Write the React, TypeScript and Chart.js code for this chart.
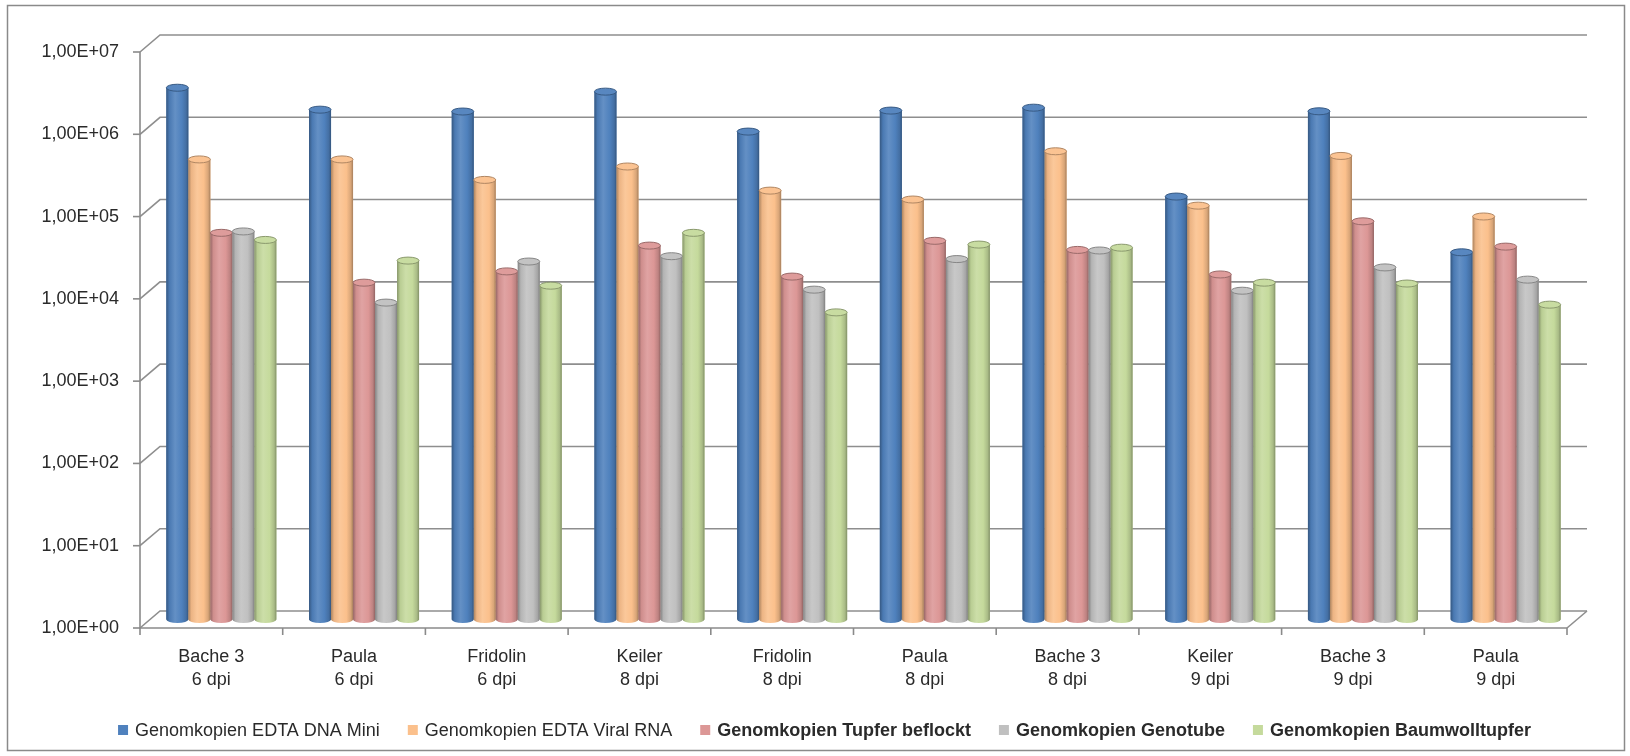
import React, { useEffect, useRef } from 'react';
import { Chart, registerables } from 'chart.js';

Chart.register(...registerables);

const categories: string[][] = [
  ['Bache 3', '6 dpi'],
  ['Paula', '6 dpi'],
  ['Fridolin', '6 dpi'],
  ['Keiler', '8 dpi'],
  ['Fridolin', '8 dpi'],
  ['Paula', '8 dpi'],
  ['Bache 3', '8 dpi'],
  ['Keiler', '9 dpi'],
  ['Bache 3', '9 dpi'],
  ['Paula', '9 dpi'],
];

const seriesNames = [
  'Genomkopien EDTA DNA Mini',
  'Genomkopien EDTA Viral RNA',
  'Genomkopien Tupfer beflockt',
  'Genomkopien Genotube',
  'Genomkopien Baumwolltupfer',
];

const edtaDnaMini = [2.9e6, 1.57e6, 1.49e6, 2.6e6, 8.5e5, 1.53e6, 1.66e6, 1.38e5, 1.5e6, 2.9e4];
const edtaViralRna = [3.9e5, 3.9e5, 2.2e5, 3.2e5, 1.63e5, 1.27e5, 4.9e5, 1.07e5, 4.3e5, 7.9e4];
const tupferBeflockt = [5.0e4, 1.24e4, 1.7e4, 3.5e4, 1.47e4, 4.0e4, 3.1e4, 1.56e4, 6.9e4, 3.4e4];
const genotube = [5.2e4, 7.1e3, 2.24e4, 2.6e4, 1.02e4, 2.4e4, 3.05e4, 9.9e3, 1.9e4, 1.35e4];
const baumwolltupfer = [4.1e4, 2.3e4, 1.14e4, 5.0e4, 5.4e3, 3.6e4, 3.3e4, 1.24e4, 1.21e4, 6.7e3];

const yTickValues = [1, 10, 100, 1000, 10000, 100000, 1000000, 10000000];
const yTickLabels = ['1,00E+00', '1,00E+01', '1,00E+02', '1,00E+03', '1,00E+04', '1,00E+05', '1,00E+06', '1,00E+07'];

const seriesColors = ['#4F81BD', '#FBC08C', '#DC9796', '#C0C0C0', '#C5DA9C'];
const legendBold = [false, false, true, true, true];

const FONT = "'Liberation Sans', Arial, sans-serif";
const TEXT = '#2a2a2a';
const DX = 20;
const DY = -17;

function shade(hex: string, f: number): string {
  const n = parseInt(hex.slice(1), 16);
  let r = (n >> 16) & 255, g = (n >> 8) & 255, b = n & 255;
  if (f < 0) {
    r = r * (1 + f); g = g * (1 + f); b = b * (1 + f);
  } else {
    r = r + (255 - r) * f; g = g + (255 - g) * f; b = b + (255 - b) * f;
  }
  return `rgb(${Math.round(r)},${Math.round(g)},${Math.round(b)})`;
}

const chart3d = {
  id: 'chart3d',
  beforeDraw(chart: any) {
    const { ctx, chartArea: a, scales } = chart;
    const y = scales.y;
    ctx.save();
    ctx.fillStyle = '#ffffff';
    ctx.fillRect(0, 0, chart.width, chart.height);
    ctx.strokeStyle = '#8a8a8a';
    ctx.lineWidth = 1.5;
    ctx.strokeRect(7.5, 5.5, 1617, 745);
    ctx.strokeStyle = '#8e8e8e';
    ctx.lineWidth = 1.6;
    for (const v of yTickValues) {
      const py = y.getPixelForValue(v);
      ctx.beginPath();
      ctx.moveTo(a.left, py);
      ctx.lineTo(a.left + DX, py + DY);
      ctx.lineTo(a.right + DX, py + DY);
      ctx.stroke();
    }
    ctx.beginPath();
    ctx.moveTo(a.right, a.bottom);
    ctx.lineTo(a.right + DX, a.bottom + DY);
    ctx.stroke();
    ctx.restore();
  },
  beforeDatasetsDraw(chart: any) {
    chart.ctx.save();
    chart.ctx.translate(DX / 2, DY / 2);
  },
  afterDatasetsDraw(chart: any) {
    const ctx = chart.ctx;
    const ry = 3.5;
    chart.data.datasets.forEach((ds: any, d: number) => {
      const meta = chart.getDatasetMeta(d);
      const c = seriesColors[d];
      meta.data.forEach((el: any) => {
        const { x, y, base, width } = el.getProps(['x', 'y', 'base', 'width'], true);
        const l = x - width / 2;
        const r = x + width / 2;
        const g = ctx.createLinearGradient(l, 0, r, 0);
        g.addColorStop(0, shade(c, -0.32));
        g.addColorStop(0.14, shade(c, -0.06));
        g.addColorStop(0.4, shade(c, 0.12));
        g.addColorStop(0.7, c);
        g.addColorStop(0.9, shade(c, -0.14));
        g.addColorStop(1, shade(c, -0.34));
        ctx.fillStyle = g;
        ctx.beginPath();
        ctx.moveTo(l, y);
        ctx.lineTo(l, base);
        ctx.ellipse(x, base, width / 2, ry, 0, Math.PI, 0, true);
        ctx.lineTo(r, y);
        ctx.closePath();
        ctx.fill();
        ctx.beginPath();
        ctx.ellipse(x, y, width / 2, ry, 0, 0, Math.PI * 2);
        ctx.fillStyle = shade(c, 0.05);
        ctx.fill();
        ctx.strokeStyle = shade(c, -0.3);
        ctx.lineWidth = 1;
        ctx.stroke();
      });
    });
    ctx.restore();
  },
  afterDraw(chart: any) {
    const { ctx, chartArea: a, scales } = chart;
    const y = scales.y;
    ctx.save();
    ctx.strokeStyle = '#8a8a8a';
    ctx.lineWidth = 1.6;
    ctx.beginPath();
    ctx.moveTo(a.left, a.top);
    ctx.lineTo(a.left, a.bottom);
    ctx.lineTo(a.right, a.bottom);
    ctx.stroke();
    for (const v of yTickValues) {
      const py = y.getPixelForValue(v);
      ctx.beginPath();
      ctx.moveTo(a.left - 7, py);
      ctx.lineTo(a.left, py);
      ctx.stroke();
    }
    const n = categories.length;
    for (let i = 0; i <= n; i++) {
      const px = a.left + (i * (a.right - a.left)) / n;
      ctx.beginPath();
      ctx.moveTo(px, a.bottom);
      ctx.lineTo(px, a.bottom + 7);
      ctx.stroke();
    }
    // legend
    const box = 10, gapText = 7, gapItem = 28;
    const widths = seriesNames.map((s, i) => {
      ctx.font = `${legendBold[i] ? 'bold ' : ''}18px ${FONT}`;
      return ctx.measureText(s).width;
    });
    const total = widths.reduce((s, w) => s + w + box + gapText, 0) + gapItem * (seriesNames.length - 1);
    let x = chart.width / 2 + 9.5 - total / 2;
    const ly = 730;
    ctx.textBaseline = 'middle';
    ctx.textAlign = 'left';
    seriesNames.forEach((s, i) => {
      ctx.fillStyle = seriesColors[i];
      ctx.fillRect(x, ly - box / 2, box, box);
      x += box + gapText;
      ctx.font = `${legendBold[i] ? 'bold ' : ''}18px ${FONT}`;
      ctx.fillStyle = TEXT;
      ctx.fillText(s, x, ly + 1);
      x += widths[i] + gapItem;
    });
    ctx.restore();
  },
};

export default function App() {
  const ref = useRef<HTMLCanvasElement | null>(null);
  useEffect(() => {
    if (!ref.current) return;
    const seriesValues = [edtaDnaMini, edtaViralRna, tupferBeflockt, genotube, baumwolltupfer];
    const chart = new Chart(ref.current, {
      type: 'bar',
      data: {
        labels: categories,
        datasets: seriesNames.map((name, i) => ({
          label: name,
          data: seriesValues[i],
          backgroundColor: seriesColors[i],
          borderWidth: 0,
          categoryPercentage: 0.771,
          barPercentage: 1,
        })),
      },
      options: {
        responsive: false,
        animation: false,
        events: [],
        layout: { padding: { top: 52, right: 63, bottom: 0, left: 0 } },
        plugins: {
          legend: { display: false },
          tooltip: { enabled: false },
        },
        scales: {
          x: {
            grid: { display: false, drawTicks: false },
            border: { display: false },
            ticks: {
              padding: 17,
              color: TEXT,
              font: { family: FONT, size: 18, lineHeight: 1.3 },
              maxRotation: 0,
              autoSkip: false,
            },
            afterFit: (s: any) => { s.height = 128; },
          },
          y: {
            type: 'logarithmic',
            min: 1,
            max: 10000000,
            grid: { display: false, drawTicks: false },
            border: { display: false },
            afterBuildTicks: (s: any) => { s.ticks = yTickValues.map((v) => ({ value: v })); },
            afterFit: (s: any) => { s.width = 140; },
            ticks: {
              padding: 21,
              color: TEXT,
              font: { family: FONT, size: 18 },
              callback: (v: any) => yTickLabels[Math.round(Math.log10(Number(v)))],
            },
          },
        },
      },
      plugins: [chart3d],
    });
    return () => chart.destroy();
  }, []);
  return (
    <div style={{ position: 'fixed', left: 0, top: 0, width: 1630, height: 756, background: '#fff' }}>
      <canvas ref={ref} width={1630} height={756} style={{ display: 'block' }} />
    </div>
  );
}
